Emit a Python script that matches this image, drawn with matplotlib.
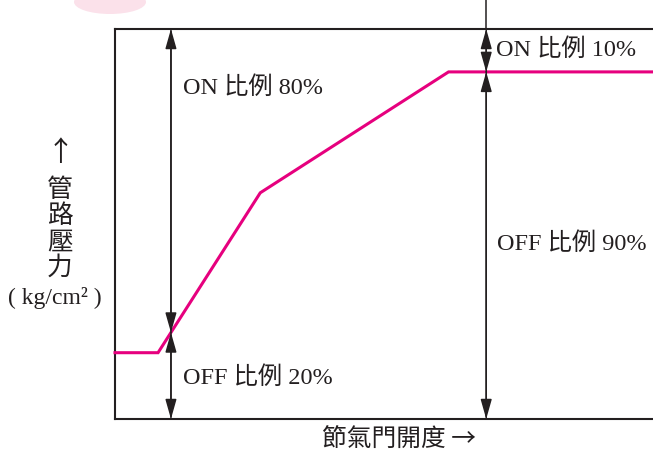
import matplotlib
matplotlib.use("Agg")
import matplotlib.pyplot as plt
import numpy as np
from matplotlib.patches import Ellipse

# Throttle opening (x) vs. line pressure (y), both in % of the frame
throttle = [0, 8, 27, 62, 100]
pressure = [17, 17, 58, 89, 89]

# Duty-ratio markers: x position of each dimension arrow
left_arrow_x = 10.4
right_arrow_x = 69.0
left_labels = ["ON 比例 80%", "OFF 比例 20%"]
right_labels = ["ON 比例 10%", "OFF 比例 90%"]

INK = "#231f20"
MAGENTA = "#e6007e"
FONT = ["Liberation Serif", "Noto Sans CJK TC"]

W, H = 653, 454
fig = plt.figure(figsize=(W / 100, H / 100), dpi=100)
ax = fig.add_axes([115 / W, (H - 419) / H, 1 - 115 / W, (419 - 29) / H])
ax.set_xlim(0, 100)
ax.set_ylim(0, 100)
ax.set_xticks([])
ax.set_yticks([])
for side in ("left", "top", "bottom"):
    ax.spines[side].set_color(INK)
    ax.spines[side].set_linewidth(1.5)
ax.spines["right"].set_visible(False)

ax.plot(throttle, pressure, color=MAGENTA, lw=2.2, solid_joinstyle="miter",
        clip_on=False, zorder=3)


def arrow(x, y0, y1):
    ax.annotate("", xy=(x, y1), xytext=(x, y0),
                arrowprops=dict(arrowstyle="-|>,head_length=0.6,head_width=0.17",
                                mutation_scale=20, color=INK, lw=1.1,
                                shrinkA=0, shrinkB=0),
                annotation_clip=False, zorder=4)


def dim_arrow(x):
    split = float(np.interp(x, throttle, pressure))
    arrow(x, split, 100)
    arrow(x, 100, split)
    arrow(x, split, 0)
    arrow(x, 0, split)
    return split


left_split = dim_arrow(left_arrow_x)
right_split = dim_arrow(right_arrow_x)
# right marker line runs past the top of the frame
ax.plot([right_arrow_x, right_arrow_x], [100, 108], color=INK, lw=1.1,
        clip_on=False)

txt = dict(fontsize=17.5, color=INK, family=FONT, va="center", ha="left")


def px_to_y(py):
    return (419 - py) / 390 * 100


def px_to_x(px):
    return (px - 115) / 538 * 100


ax.text(px_to_x(183), px_to_y(88), left_labels[0], **txt)
ax.text(px_to_x(183), px_to_y(378), left_labels[1], **txt)
ax.text(px_to_x(496), px_to_y(50), right_labels[0], **txt)
ax.text(px_to_x(497), px_to_y(244), right_labels[1], **txt)

# axis captions
fig.text(322 / W, 1 - 440 / H, "節氣門開度 →", fontsize=17.8, color=INK,
         family=["Noto Sans CJK TC", "DejaVu Sans"], va="center", ha="left",
         fontweight="light")
fig.text(60 / W, 1 - 153 / H, "↑", fontsize=20, color=INK,
         family=["Noto Sans CJK TC", "DejaVu Sans"], va="center", ha="center",
         fontweight="light")
for ch, py in zip("管路壓力", [190, 216, 242, 268]):
    fig.text(60 / W, 1 - py / H, ch, fontsize=18.5, color=INK,
             family=["Noto Sans CJK TC"], va="center", ha="center",
             fontweight="light")
fig.text(55 / W, 1 - 298 / H, "( kg/cm² )", fontsize=17, color=INK,
         family=["Liberation Serif"], va="center", ha="center")

# faint pink ornament at the top edge
fig.patches.append(Ellipse((110 / W, 1 - 2 / H), 72 / W, 24 / H,
                           transform=fig.transFigure, facecolor="#fbe1ea",
                           edgecolor="none", zorder=0))

fig.savefig("out.png", dpi=100)
